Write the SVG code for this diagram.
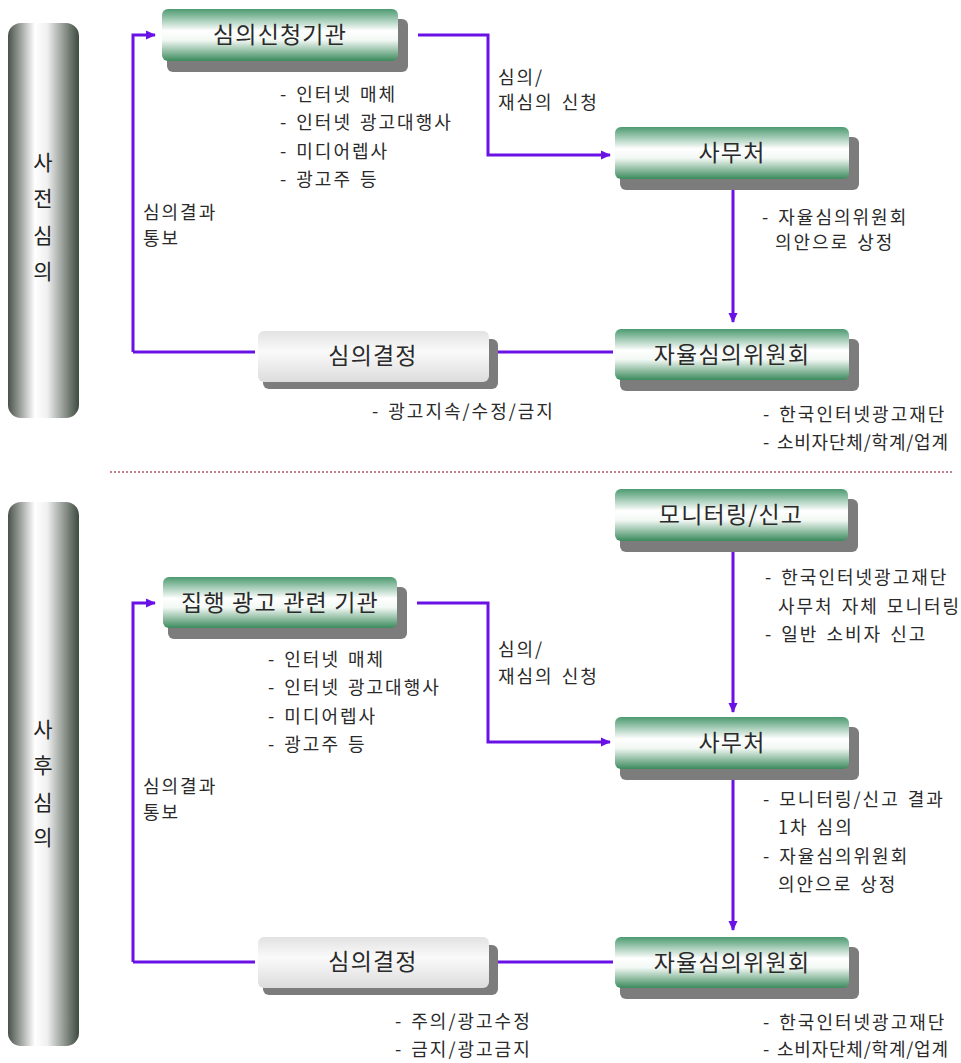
<svg xmlns="http://www.w3.org/2000/svg" width="961" height="1063" viewBox="0 0 961 1063">
<style>
.t{font-family:"Noto Sans CJK KR","Noto Sans",sans-serif;fill:#2a2a2a}
.s{font-size:18px;letter-spacing:2px;word-spacing:2px}
.n{letter-spacing:0.8px}
.b{font-size:23px;letter-spacing:1.2px;text-anchor:middle}
.side{font-family:"Noto Sans CJK KR",sans-serif;font-size:21px;fill:#222;text-anchor:middle}
.c{fill:none;stroke:#6a12e6;stroke-width:3}
.sh{fill:#7c7c7c}
</style>
<defs>
<linearGradient id="gg" x1="0" y1="0" x2="0" y2="1">
<stop offset="0" stop-color="#4c9a70"/>
<stop offset="0.42" stop-color="#ffffff"/>
<stop offset="0.6" stop-color="#f2f8f4"/>
<stop offset="1" stop-color="#3b8a5c"/>
</linearGradient>
<linearGradient id="gy" x1="0" y1="0" x2="0" y2="1">
<stop offset="0" stop-color="#e2e2e2"/>
<stop offset="0.4" stop-color="#fafafa"/>
<stop offset="1" stop-color="#dcdcdc"/>
</linearGradient>
<linearGradient id="bar" x1="0" y1="0" x2="1" y2="0">
<stop offset="0" stop-color="#4a514a"/>
<stop offset="0.38" stop-color="#ffffff"/>
<stop offset="0.55" stop-color="#f0f0f0"/>
<stop offset="1" stop-color="#3d4a3e"/>
</linearGradient>
<marker id="ah" markerWidth="10" markerHeight="10" viewBox="0 0 10 10" refX="9" refY="5" orient="auto" markerUnits="userSpaceOnUse">
<path d="M0,0.5 L10,5 L0,9.5 Z" fill="#6a12e6"/>
</marker>
</defs>
<rect width="961" height="1063" fill="#ffffff"/>

<g id="bar-pre">
<rect x="8" y="23" width="71" height="395" rx="13" fill="url(#bar)"/>
<text class="side" x="43" y="170">사</text>
<text class="side" x="43" y="206">전</text>
<text class="side" x="43" y="243">심</text>
<text class="side" x="43" y="279">의</text>
</g>
<g id="bar-post">
<rect x="8" y="502" width="71" height="544" rx="13" fill="url(#bar)"/>
<text class="side" x="43" y="737">사</text>
<text class="side" x="43" y="773">후</text>
<text class="side" x="43" y="810">심</text>
<text class="side" x="43" y="845">의</text>
</g>

<line id="divider" x1="110" y1="472" x2="952" y2="472" stroke="#b25a6a" stroke-width="1.5" stroke-dasharray="2 2"/>

<g id="connectors">
<path class="c" d="M133,352 V35 H155" marker-end="url(#ah)"/>
<path class="c" d="M418,35 H488 V155 H610" marker-end="url(#ah)"/>
<path class="c" d="M733,190 V322" marker-end="url(#ah)"/>
<path class="c" d="M613,352 H495"/>
<path class="c" d="M255,352 H133"/>
<path class="c" d="M733,552 V712" marker-end="url(#ah)"/>
<path class="c" d="M133,962 V603 H155" marker-end="url(#ah)"/>
<path class="c" d="M417,603 H488 V742 H610" marker-end="url(#ah)"/>
<path class="c" d="M733,780 V930" marker-end="url(#ah)"/>
<path class="c" d="M613,962 H495"/>
<path class="c" d="M255,962 H133"/>
</g>

<g id="n-apply">
<rect class="sh" x="167" y="19" width="241" height="53" rx="6"/>
<rect x="162" y="9" width="236" height="52" rx="6" fill="url(#gg)"/>
<text class="t b" x="280" y="43">심의신청기관</text>
</g>
<g id="n-office1">
<rect class="sh" x="620" y="137" width="239" height="53" rx="6"/>
<rect x="615" y="127" width="234" height="52" rx="6" fill="url(#gg)"/>
<text class="t b" x="732" y="161">사무처</text>
</g>
<g id="n-committee1">
<rect class="sh" x="620" y="339" width="239" height="52" rx="6"/>
<rect x="615" y="329" width="234" height="51" rx="6" fill="url(#gg)"/>
<text class="t b" x="732" y="363">자율심의위원회</text>
</g>
<g id="n-decision1">
<rect class="sh" x="263" y="339" width="235" height="50" rx="6"/>
<rect x="258" y="331" width="231" height="51" rx="6" fill="url(#gy)"/>
<text class="t b" x="373" y="364">심의결정</text>
</g>

<g id="n-monitor">
<rect class="sh" x="620" y="499" width="238" height="53" rx="6"/>
<rect x="615" y="489" width="233" height="52" rx="6" fill="url(#gg)"/>
<text class="t b" x="731" y="523">모니터링/신고</text>
</g>
<g id="n-agency">
<rect class="sh" x="168" y="587" width="239" height="52" rx="6"/>
<rect x="163" y="577" width="234" height="51" rx="6" fill="url(#gg)"/>
<text class="t b" x="280" y="611">집행 광고 관련 기관</text>
</g>
<g id="n-office2">
<rect class="sh" x="620" y="727" width="239" height="53" rx="6"/>
<rect x="615" y="717" width="234" height="52" rx="6" fill="url(#gg)"/>
<text class="t b" x="732" y="751">사무처</text>
</g>
<g id="n-committee2">
<rect class="sh" x="620" y="947" width="239" height="52" rx="6"/>
<rect x="615" y="937" width="234" height="51" rx="6" fill="url(#gg)"/>
<text class="t b" x="732" y="971">자율심의위원회</text>
</g>
<g id="n-decision2">
<rect class="sh" x="263" y="945" width="235" height="50" rx="6"/>
<rect x="258" y="937" width="231" height="51" rx="6" fill="url(#gy)"/>
<text class="t b" x="373" y="970">심의결정</text>
</g>

<g id="labels" class="t s">
<text x="280" y="101">- 인터넷 매체</text>
<text x="280" y="129">- 인터넷 광고대행사</text>
<text x="280" y="158">- 미디어렙사</text>
<text x="280" y="186">- 광고주 등</text>
<text x="498" y="84">심의/</text>
<text x="498" y="109">재심의 신청</text>
<text x="143" y="219">심의결과</text>
<text x="143" y="245">통보</text>
<text x="762" y="224">- 자율심의위원회</text>
<text x="775" y="249">의안으로 상정</text>
<text x="372" y="418">- 광고지속/수정/금지</text>
<text x="763" y="421">- 한국인터넷광고재단</text>
<text class="n" x="763" y="449">- 소비자단체/학계/업계</text>

<text x="765" y="584">- 한국인터넷광고재단</text>
<text x="778" y="613">사무처 자체 모니터링</text>
<text x="765" y="641">- 일반 소비자 신고</text>
<text x="268" y="666">- 인터넷 매체</text>
<text x="268" y="694">- 인터넷 광고대행사</text>
<text x="268" y="723">- 미디어렙사</text>
<text x="268" y="751">- 광고주 등</text>
<text x="498" y="656">심의/</text>
<text x="498" y="683">재심의 신청</text>
<text x="143" y="793">심의결과</text>
<text x="143" y="819">통보</text>
<text x="763" y="806">- 모니터링/신고 결과</text>
<text x="778" y="834">1차 심의</text>
<text x="763" y="863">- 자율심의위원회</text>
<text x="778" y="891">의안으로 상정</text>
<text x="395" y="1028">- 주의/광고수정</text>
<text x="395" y="1056">- 금지/광고금지</text>
<text x="763" y="1029">- 한국인터넷광고재단</text>
<text class="n" x="763" y="1056">- 소비자단체/학계/업계</text>
</g>
</svg>
